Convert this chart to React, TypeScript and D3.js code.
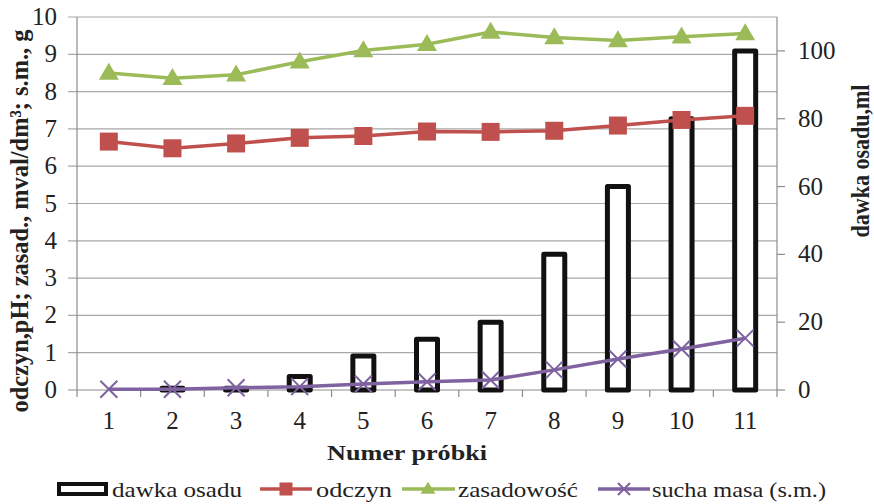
import React from 'react';
import * as d3 from 'd3';

const categories = ['1', '2', '3', '4', '5', '6', '7', '8', '9', '10', '11'];
const dawkaOsadu = [0, 0.5, 0.5, 4, 10, 15, 20, 40, 60, 80, 100];
const odczyn = [6.66, 6.48, 6.61, 6.76, 6.81, 6.93, 6.92, 6.95, 7.09, 7.24, 7.35];
const zasadowosc = [8.5, 8.36, 8.45, 8.8, 9.1, 9.27, 9.6, 9.45, 9.37, 9.47, 9.56];
const suchaMasa = [0.02, 0.02, 0.06, 0.09, 0.16, 0.22, 0.27, 0.54, 0.83, 1.1, 1.39];
const leftTicks = [0, 1, 2, 3, 4, 5, 6, 7, 8, 9, 10];
const rightTicks = [0, 20, 40, 60, 80, 100];

const RED = '#C0504D';
const GREEN = '#9BBB59';
const PURPLE = '#7F62A0';
const GRID = '#A8A8A8';
const AXIS = '#8C8C8C';
const FONT = "'Liberation Serif', 'Times New Roman', Times, serif";

const W = 874, H = 504;
const L = 77, R = 777, T = 17, B = 390;

export default function App() {
  const x = d3.scaleBand<string>().domain(categories).range([L, R]);
  const yL = d3.scaleLinear().domain([0, 10]).range([B, T]);
  const yR = d3.scaleLinear().domain([0, 110]).range([B, T]);
  const cx = (c: string) => (x(c) as number) + x.bandwidth() / 2;
  const line = d3.line<number>().x((_, i) => cx(categories[i])).y(v => yL(v));
  const barW = 21;

  const square = (px: number, py: number, s: number, key: string | number) => (
    <rect key={key} x={px - s / 2} y={py - s / 2} width={s} height={s} fill={RED} />
  );
  const tri = (px: number, py: number, w: number, h: number, key: string | number) => (
    <path key={key} d={`M${px},${py - h * 0.6}L${px + w / 2},${py + h * 0.4}L${px - w / 2},${py + h * 0.4}Z`} fill={GREEN} />
  );
  const cross = (px: number, py: number, s: number, key: string | number) => (
    <path key={key} d={`M${px - s / 2},${py - s / 2}L${px + s / 2},${py + s / 2}M${px - s / 2},${py + s / 2}L${px + s / 2},${py - s / 2}`} stroke={PURPLE} strokeWidth={2} fill="none" />
  );

  return (
    <svg width={W} height={H} style={{ position: 'absolute', left: 0, top: 0, background: '#fff', fontFamily: FONT }}>
      {leftTicks.map(t => (
        <line key={'g' + t} x1={L - 9} x2={R} y1={yL(t)} y2={yL(t)} stroke={t === 0 ? AXIS : GRID} strokeWidth={1.2} />
      ))}
      <line x1={L} x2={L} y1={T} y2={B} stroke={AXIS} strokeWidth={1.2} />
      <line x1={R} x2={R} y1={T} y2={B} stroke={AXIS} strokeWidth={1.2} />
      {rightTicks.map(t => (
        <line key={'rt' + t} x1={R} x2={R + 8} y1={yR(t)} y2={yR(t)} stroke={AXIS} strokeWidth={1.2} />
      ))}
      {d3.range(categories.length + 1).map(i => (
        <line key={'xt' + i} x1={L + i * x.bandwidth()} x2={L + i * x.bandwidth()} y1={B} y2={B + 7} stroke={AXIS} strokeWidth={1.2} />
      ))}
      {leftTicks.map(t => (
        <text key={'lt' + t} x={57} y={yL(t) + 8} textAnchor="end" fontSize={25} fill="#222">{t}</text>
      ))}
      {rightTicks.map(t => (
        <text key={'rl' + t} x={798} y={yR(t) + 8} textAnchor="start" fontSize={25} fill="#222">{t}</text>
      ))}
      {categories.map(c => (
        <text key={'xl' + c} x={cx(c)} y={429} textAnchor="middle" fontSize={25} fill="#222">{c}</text>
      ))}
      {dawkaOsadu.map((v, i) => v > 0 ? (
        <rect key={'b' + i} x={cx(categories[i]) - barW / 2} y={yR(v)} width={barW} height={B - yR(v)} fill="#fff" stroke="#111" strokeWidth={5} strokeLinejoin="round" />
      ) : null)}
      <path d={line(odczyn) as string} fill="none" stroke={RED} strokeWidth={3.5} />
      {odczyn.map((v, i) => square(cx(categories[i]), yL(v), 18, 'sq' + i))}
      <path d={line(zasadowosc) as string} fill="none" stroke={GREEN} strokeWidth={3.5} />
      {zasadowosc.map((v, i) => tri(cx(categories[i]), yL(v), 20, 17, 'tr' + i))}
      <path d={line(suchaMasa) as string} fill="none" stroke={PURPLE} strokeWidth={3.5} />
      {suchaMasa.map((v, i) => cross(cx(categories[i]), yL(v), 17, 'cr' + i))}
      <text transform={`translate(28,${221}) rotate(-90)`} textAnchor="middle" fontSize={26} fontWeight="bold" fill="#222" textLength={383} lengthAdjust="spacingAndGlyphs">odczyn,pH; zasad., mval/dm³; s.m., g</text>
      <text transform={`translate(869,${161}) rotate(-90)`} textAnchor="middle" fontSize={26} fontWeight="bold" fill="#222" textLength={153} lengthAdjust="spacingAndGlyphs">dawka osadu,ml</text>
      <text x={407} y={460} textAnchor="middle" fontSize={22} fontWeight="bold" fill="#222" textLength={160} lengthAdjust="spacingAndGlyphs">Numer  próbki</text>
      <rect x={59} y={484} width={47} height={10} fill="#fff" stroke="#111" strokeWidth={4} />
      <text x={112} y={497} fontSize={21} fill="#222" textLength={130} lengthAdjust="spacingAndGlyphs">dawka osadu</text>
      <line x1={260} x2={312} y1={489} y2={489} stroke={RED} strokeWidth={3.5} />
      {square(286, 489, 13, 'lsq')}
      <text x={316} y={497} fontSize={21} fill="#222" textLength={76} lengthAdjust="spacingAndGlyphs">odczyn</text>
      <line x1={402} x2={455} y1={489} y2={489} stroke={GREEN} strokeWidth={3.5} />
      {tri(428, 489, 15, 12, 'ltr')}
      <text x={458} y={497} fontSize={21} fill="#222" textLength={120} lengthAdjust="spacingAndGlyphs">zasadowość</text>
      <line x1={598} x2={650} y1={489} y2={489} stroke={PURPLE} strokeWidth={3.5} />
      {cross(624, 489, 12, 'lcr')}
      <text x={652} y={497} fontSize={21} fill="#222" textLength={174} lengthAdjust="spacingAndGlyphs">sucha masa (s.m.)</text>
    </svg>
  );
}
